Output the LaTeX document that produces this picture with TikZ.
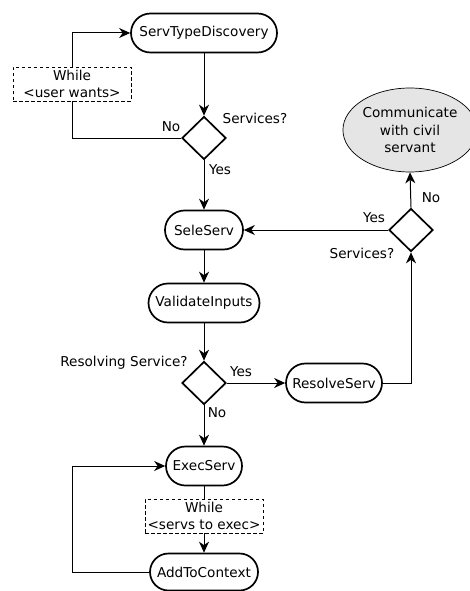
\documentclass[tikz,border=0pt]{standalone}
\usepackage{fontspec}
\setmainfont{DejaVu Sans}
\usetikzlibrary{shapes.misc,shapes.geometric,arrows.meta}
\begin{document}
\begin{tikzpicture}[x=1pt,y=-1pt,
  every node/.style={font=\fontsize{13.6}{17.5}\selectfont},
  act/.style={rounded rectangle, draw, line width=1.7pt, minimum height=39pt, inner xsep=6pt},
  choice/.style={diamond, draw, line width=1.7pt, minimum width=44pt, minimum height=43pt, inner sep=0pt},
  loopbox/.style={draw, dashed, line width=0.7pt, dash pattern=on 3.5pt off 2.5pt, fill=white, align=center, minimum width=118pt, minimum height=34pt, inner sep=1pt},
  endnode/.style={ellipse, draw, line width=0.7pt, fill=black!10, align=center, minimum width=126pt, minimum height=84pt, inner sep=0pt},
  flow/.style={line width=1pt, -{Stealth[length=11pt,width=10pt,inset=3.5pt]}},
  plain/.style={line width=1pt},
  lbl/.style={inner sep=0pt}
]
\useasboundingbox (0,0) rectangle (469,591);

% activities
\node[act, minimum width=158pt] (disc) at (204,33) {ServTypeDiscovery};
\node[choice] (q1) at (204,138) {};
\node[loopbox] (w1) at (72,84) {While\\<user wants>};
\node[act, minimum width=90pt] (sel) at (204,230) {SeleServ};
\node[act, minimum width=123pt] (val) at (204,303) {ValidateInputs};
\node[choice] (q2) at (204,383) {};
\node[act, minimum width=108pt] (res) at (334,383) {ResolveServ};
\node[choice] (q3) at (411,230) {};
\node[endnode] (civ) at (410,130) {Communicate\\with civil\\servant};
\node[act, minimum width=88pt] (exec) at (204,466) {ExecServ};
\node[loopbox] (w2) at (204,516) {While\\<servs to exec>};
\node[act, minimum width=120pt, minimum height=37pt] (add) at (204,572) {AddToContext};
\coordinate (back) at (72,572);

% connectors
\draw[flow] (disc.south) -- (q1.north);
\draw[plain] (q1.west) -| (w1.south);
\draw[flow] (w1.north) |- (disc.west);
\draw[flow] (q1.south) -- (sel.north);
\draw[flow] (sel.south) -- (val.north);
\draw[flow] (val.south) -- (q2.north);
\draw[flow] (q2.east) -- (res.west);
\draw[flow] (q2.south) -- (exec.north);
\draw[flow] (res.east) -| (q3.south);
\draw[flow] (q3.west) -- (sel.east);
\draw[flow] (q3.north) -- (civ.south);
\draw[plain] (exec.south) -- (w2.north);
\draw[flow] (w2.south) -- (add.north);
\draw[flow] (add.west) -- (back) |- (exec.west);

% labels
\node[lbl] (l1) at (255,118) {Services?};
\node[lbl] (l2) at (171,127) {No};
\node[lbl] (l3) at (220,170) {Yes};
\node[lbl] (l4) at (124,363) {Resolving Service?};
\node[lbl] (l5) at (241,372) {Yes};
\node[lbl] (l6) at (217,413) {No};
\node[lbl] (l7) at (374,218) {Yes};
\node[lbl] (l8) at (362,253) {Services?};
\node[lbl] (l9) at (431,198) {No};
\end{tikzpicture}
\end{document}
